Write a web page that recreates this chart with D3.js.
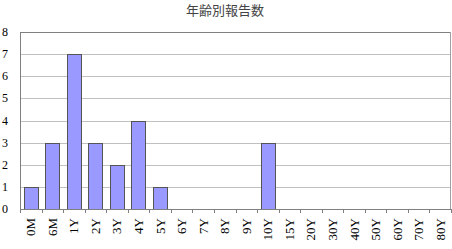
<!DOCTYPE html>
<html>
<head>
<meta charset="utf-8">
<script src="https://cdn.jsdelivr.net/npm/d3@7"></script>
<style>
body { margin: 0; background: #fff; }
svg text { font-family: "Liberation Serif", "DejaVu Serif", serif; }
</style>
</head>
<body>
<svg id="chart" width="452" height="249"></svg>
<script>
var categories = ["0M", "6M", "1Y", "2Y", "3Y", "4Y", "5Y", "6Y", "7Y", "8Y", "9Y",
  "10Y", "15Y", "20Y", "30Y", "40Y", "50Y", "60Y", "70Y", "80Y"];
var counts = [1, 3, 7, 3, 2, 4, 1, 0, 0, 0, 0, 3, 0, 0, 0, 0, 0, 0, 0, 0];
var yTicks = [0, 1, 2, 3, 4, 5, 6, 7, 8];
var title = "年齢別報告数";

var svg = d3.select("#chart");

// plot area
var plotLeft = 20, plotRight = 451, plotTop = 32, plotBottom = 209;

var x = d3.scaleBand().domain(categories).range([plotLeft, plotRight]).paddingInner(0.34).paddingOuter(0.17);
var y = d3.scaleLinear().domain([0, 8]).range([plotBottom, plotTop]);

// grid
svg.append("g")
  .selectAll("line")
  .data(yTicks.slice(1))
  .enter()
  .append("line")
  .attr("x1", plotLeft)
  .attr("x2", plotRight)
  .attr("y1", function (d) { return Math.round(y(d)) + 0.5; })
  .attr("y2", function (d) { return Math.round(y(d)) + 0.5; })
  .attr("stroke", function (d) { return d == 8 ? "#808080" : "#c0c0c0"; })
  .attr("stroke-width", 1);

// right border
svg.append("line")
  .attr("x1", plotRight - 0.5).attr("x2", plotRight - 0.5)
  .attr("y1", plotTop).attr("y2", plotBottom)
  .attr("stroke", "#a0a0a0");

// bars
var barData = counts.map(function (v, i) { return { c: categories[i], v: v }; })
  .filter(function (d) { return d.v > 0; });

svg.append("g")
  .selectAll("rect")
  .data(barData)
  .enter()
  .append("rect")
  .attr("x", function (d) { return Math.round(x(d.c)) + 0.5; })
  .attr("y", function (d) { return Math.round(y(d.v)) + 0.5; })
  .attr("width", Math.round(x.bandwidth()))
  .attr("height", function (d) { return Math.round(y(0)) - Math.round(y(d.v)); })
  .attr("fill", "#9999ff")
  .attr("stroke", "#555")
  .attr("stroke-width", 1);

// axis y line
svg.append("line")
  .attr("x1", plotLeft + 0.5).attr("x2", plotLeft + 0.5)
  .attr("y1", plotTop).attr("y2", plotBottom + 1)
  .attr("stroke", "#808080");

// axis x line + ticks
svg.append("line")
  .attr("x1", plotLeft).attr("x2", plotRight)
  .attr("y1", plotBottom + 0.5).attr("y2", plotBottom + 0.5)
  .attr("stroke", "#808080");

var step = (plotRight - plotLeft) / categories.length;
svg.append("g")
  .selectAll("line")
  .data(d3.range(categories.length + 1))
  .enter()
  .append("line")
  .attr("x1", function (i) { return Math.round(plotLeft + i * step) + 0.5; })
  .attr("x2", function (i) { return Math.round(plotLeft + i * step) + 0.5; })
  .attr("y1", plotBottom)
  .attr("y2", plotBottom + 4)
  .attr("stroke", "#808080");

// y labels
svg.append("g")
  .selectAll("text")
  .data(yTicks)
  .enter()
  .append("text")
  .attr("x", 8)
  .attr("y", function (d) { return y(d) + 4; })
  .attr("text-anchor", "end")
  .attr("font-size", 12)
  .attr("fill", "#000")
  .text(function (d) { return d; });

// x labels (rotated)
svg.append("g")
  .selectAll("text")
  .data(categories)
  .enter()
  .append("text")
  .attr("transform", function (d) {
    return "translate(" + (x(d) + x.bandwidth() / 2 + 4.5) + "," + (plotBottom + 9) + ") rotate(-90)";
  })
  .attr("text-anchor", "end")
  .attr("font-size", 13)
  .attr("fill", "#000")
  .text(function (d) { return d; });

// title
svg.append("text")
  .attr("x", 225)
  .attr("y", 15)
  .attr("text-anchor", "middle")
  .attr("font-size", 13)
  .attr("fill", "#444")
  .style("font-family", "'Noto Sans CJK JP', sans-serif")
  .text(title);
</script>
</body>
</html>
